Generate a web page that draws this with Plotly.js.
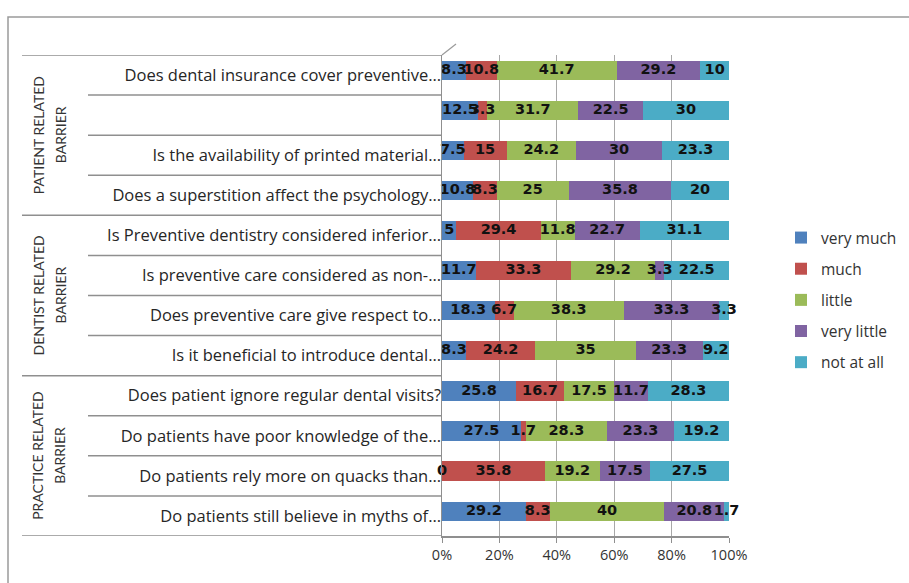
<!DOCTYPE html>
<html>
<head>
<meta charset="utf-8">
<script src="https://cdn.plot.ly/plotly-3.0.1.min.js"></script>
<style>html,body{margin:0;padding:0;background:#fff;}#chart{width:909px;height:583px;}</style>
</head>
<body>
<div id="chart"></div>
<script>
// ---- data (top row first) ----
const categories = [
  "Does dental insurance cover preventive...",
  "",
  "Is the availability of printed material...",
  "Does a superstition affect the psychology...",
  "Is Preventive dentistry considered inferior...",
  "Is preventive care considered as non-...",
  "Does preventive care give respect to...",
  "Is it beneficial to introduce dental...",
  "Does patient ignore regular dental visits?",
  "Do patients have poor knowledge of the...",
  "Do patients rely more on quacks than...",
  "Do patients still believe in myths of..."
];
const groupLine1 = ["PATIENT RELATED", "DENTIST RELATED", "PRACTICE RELATED"];
const groupLine2 = ["BARRIER", "BARRIER", "BARRIER"];
const seriesNames = ["very much", "much", "little", "very little", "not at all"];
const veryMuch   = [8.3, 12.5, 7.5, 10.8, 5, 11.7, 18.3, 8.3, 25.8, 27.5, 0, 29.2];
const much       = [10.8, 3.3, 15, 8.3, 29.4, 33.3, 6.7, 24.2, 16.7, 1.7, 35.8, 8.3];
const little     = [41.7, 31.7, 24.2, 25, 11.8, 29.2, 38.3, 35, 17.5, 28.3, 19.2, 40];
const veryLittle = [29.2, 22.5, 30, 35.8, 22.7, 3.3, 33.3, 23.3, 11.7, 23.3, 17.5, 20.8];
const notAtAll   = [10, 30, 23.3, 20, 31.1, 22.5, 3.3, 9.2, 28.3, 19.2, 27.5, 1.7];
const xTicks = [0, 20, 40, 60, 80, 100];

// ---- styling ----
const series = [veryMuch, much, little, veryLittle, notAtAll];
const colors = ["#4F81BD", "#C0504D", "#9BBB59", "#8064A2", "#4BACC6"];
const rowIdx = categories.map((_, i) => i);
const barShift = -0.12;   // bars sit slightly above the row centre (3D look)
const barWidth = 0.48;

const traces = series.map((vals, k) => ({
  type: "bar",
  orientation: "h",
  name: seriesNames[k],
  legendgroup: "g" + k,
  x: vals,
  y: rowIdx,
  width: barWidth,
  offset: barShift - barWidth / 2,
  marker: {color: colors[k], line: {width: 0}},
  hoverinfo: "skip"
}));

// data labels at the middle of each stacked segment
const lx = [], ly = [], lt = [];
rowIdx.forEach(i => {
  let cum = 0;
  series.forEach(vals => {
    const v = vals[i];
    lx.push(cum + v / 2);
    ly.push(i + barShift);
    lt.push(String(v));
    cum += v;
  });
});
traces.push({
  type: "scatter",
  mode: "text",
  x: lx, y: ly, text: lt,
  textfont: {family: "DejaVu Sans", size: 14.5, color: "#111", weight: "bold"},
  textposition: "middle center",
  showlegend: false,
  hoverinfo: "skip",
  cliponaxis: false
});

// plot area geometry in pixels
const L = 442, R = 729, T = 55, B = 536;
const W = R - L, H = B - T;
const px = p => (p - L) / W;
const py = p => (B - p) / H;

const shapes = [];
// row separator lines
for (let i = 0; i <= categories.length; i++) {
  const isGroup = (i % 4 === 0);
  shapes.push({
    type: "line", xref: "paper", yref: "y",
    x0: px(isGroup ? 22 : 88), x1: 0,
    y0: i - 0.5, y1: i - 0.5,
    line: {color: "#8f8f8f", width: 1.5}
  });
}
// outer frame
shapes.push({
  type: "rect", xref: "paper", yref: "paper",
  x0: px(8), x1: px(930), y0: py(17), y1: py(600),
  line: {color: "#9a9a9a", width: 1.5}
});
// 3D wall corner
shapes.push({
  type: "line", xref: "paper", yref: "paper",
  x0: 0, y0: 1, x1: px(456), y1: py(44),
  line: {color: "#9a9a9a", width: 1.2}
});

const annotations = [];
groupLine1.forEach((t, g) => {
  const yc = g * 4 + 1.5;
  annotations.push({
    xref: "paper", yref: "y", x: px(38), y: yc, text: t, textangle: -90,
    xanchor: "center", yanchor: "middle",
    showarrow: false, font: {family: "Lato", size: 14, color: "#333"}
  });
  annotations.push({
    xref: "paper", yref: "y", x: px(60), y: yc, text: groupLine2[g], textangle: -90,
    xanchor: "center", yanchor: "middle",
    showarrow: false, font: {family: "Lato", size: 14, color: "#333"}
  });
});

const layout = {
  width: 909, height: 583,
  margin: {l: L, r: 909 - R, t: T, b: 583 - B, autoexpand: false},
  paper_bgcolor: "#fff", plot_bgcolor: "#fff",
  barmode: "stack",
  showlegend: true,
  legend: {
    x: px(781), y: py(221), xanchor: "left", yanchor: "top",
    font: {family: "Open Sans", size: 15.5, color: "#333"},
    tracegroupgap: 8, traceorder: "grouped"
  },
  xaxis: {
    range: [0, 100], tickvals: xTicks, ticktext: xTicks.map(v => v + "%"),
    showgrid: true, gridcolor: "#a8a8a8", gridwidth: 1,
    zeroline: false, showline: true, linecolor: "#8f8f8f", linewidth: 1.5,
    ticks: "outside", ticklen: 5, tickcolor: "#8f8f8f",
    tickfont: {family: "Open Sans", size: 14.5, color: "#333"}, fixedrange: true
  },
  yaxis: {
    range: [categories.length - 0.5, -0.5],
    tickvals: rowIdx, ticktext: categories,
    showgrid: false, zeroline: false, showline: true, linecolor: "#8f8f8f", linewidth: 1.5,
    ticks: "", ticklabelstandoff: -4,
    tickfont: {family: "Open Sans", size: 16.5, color: "#262626"}, fixedrange: true
  },
  shapes: shapes,
  annotations: annotations
};

Plotly.newPlot("chart", traces, layout, {staticPlot: true, displayModeBar: false});
</script>
</body>
</html>
